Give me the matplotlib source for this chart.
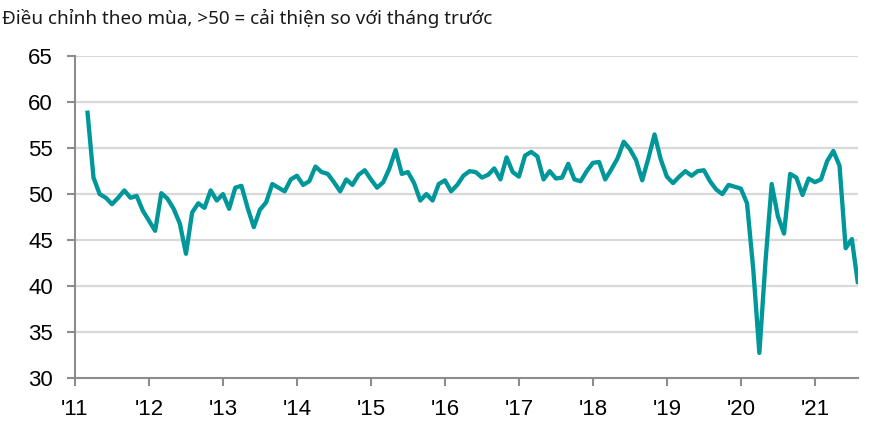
import numpy as np
import matplotlib
matplotlib.use('Agg')
import matplotlib.pyplot as plt

### Data ------------------------------------------------------------------------------------------

# monthly PMI values, Mar 2011 .. Aug 2021
pmi2011 = [59.1, 51.8, 50.0, 49.6, 48.9, 49.6, 50.4, 49.6, 49.8, 48.2]
pmi2012 = [47.1, 46.0, 50.1, 49.5, 48.4, 46.8, 43.5, 48.0, 49.0, 48.5, 50.4, 49.3]
pmi2013 = [50.0, 48.4, 50.7, 50.9, 48.5, 46.4, 48.3, 49.1, 51.1, 50.7, 50.3, 51.6]
pmi2014 = [52.0, 51.0, 51.4, 53.0, 52.4, 52.2, 51.3, 50.3, 51.6, 51.0, 52.1, 52.6]
pmi2015 = [51.6, 50.7, 51.3, 52.8, 54.8, 52.2, 52.4, 51.2, 49.3, 50.0, 49.3, 51.1]
pmi2016 = [51.5, 50.3, 51.0, 52.0, 52.5, 52.4, 51.8, 52.1, 52.8, 51.6, 54.0, 52.4]
pmi2017 = [51.9, 54.2, 54.6, 54.1, 51.6, 52.5, 51.7, 51.8, 53.3, 51.6, 51.4, 52.5]
pmi2018 = [53.4, 53.5, 51.6, 52.7, 53.9, 55.7, 54.9, 53.7, 51.5, 53.9, 56.5, 53.8]
pmi2019 = [51.9, 51.2, 51.9, 52.5, 52.0, 52.5, 52.6, 51.4, 50.5, 50.0, 51.0, 50.8]
pmi2020 = [50.6, 49.0, 41.9, 32.7, 42.7, 51.1, 47.6, 45.7, 52.2, 51.8, 49.9, 51.7]
pmi2021 = [51.3, 51.6, 53.6, 54.7, 53.1, 44.1, 45.1, 40.2]

yearLabels = ["'11", "'12", "'13", "'14", "'15", "'16", "'17", "'18", "'19", "'20", "'21"]
yTicks = [30, 35, 40, 45, 50, 55, 60, 65]

subtitle = 'Điều chỉnh theo mùa, >50 = cải thiện so với tháng trước'

### Plot ------------------------------------------------------------------------------------------

values = pmi2011 + pmi2012 + pmi2013 + pmi2014 + pmi2015 + pmi2016 + \
         pmi2017 + pmi2018 + pmi2019 + pmi2020 + pmi2021
# month index counted from Jan 2011, series starts in March
months = np.arange(2, 2 + len(values))

lineColor = '#00979a'
axisColor = '#8c8c8c'
gridColor = '#d9d9d9'
tickFont = ['Liberation Sans Narrow', 'Liberation Sans', 'DejaVu Sans']

fig = plt.figure(figsize=(8.88, 4.34), dpi=100)
ax = fig.add_axes([75 / 888, 1 - 377.7 / 434, 783 / 888, 321.3 / 434])

for y in yTicks[1:]:
    ax.axhline(y, color=gridColor, linewidth=1.6, zorder=1)

ax.plot(months, values, color=lineColor, linewidth=3.1, solid_joinstyle='round',
        solid_capstyle='butt', zorder=3)

ax.set_xlim(0, 127)
ax.set_ylim(30, 65)
ax.set_xticks(np.arange(0, 12 * len(yearLabels), 12))
ax.set_xticklabels(yearLabels)
ax.set_yticks(yTicks)
ax.set_yticklabels([str(v) for v in yTicks])

for side in ['top', 'right']:
    ax.spines[side].set_visible(False)
for side in ['left', 'bottom']:
    ax.spines[side].set_color(axisColor)
    ax.spines[side].set_linewidth(1.5)

ax.tick_params(axis='both', colors=axisColor, width=1.5, length=6, direction='out', labelcolor='black')
ax.tick_params(axis='x', pad=9)
ax.tick_params(axis='y', pad=10)
for lbl in ax.get_xticklabels() + ax.get_yticklabels():
    lbl.set_family(tickFont)
    lbl.set_fontsize(16)

fig.text(0.002, 1 - 18 / 434, subtitle, fontsize=13.6, family=['Noto Sans', 'DejaVu Sans'],
         ha='left', va='center', color='#1a1a1a')

fig.savefig('out.png', dpi=100)
